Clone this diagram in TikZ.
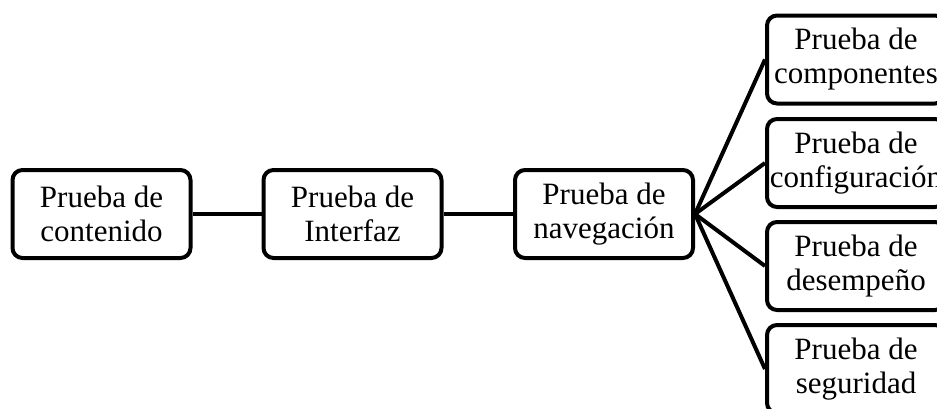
\documentclass[tikz,border=0pt]{standalone}
\usepackage{fontspec}
\setmainfont{Liberation Serif}
\begin{document}
\begin{tikzpicture}[x=1pt,y=-1pt,
  box/.style={draw=black, line width=4pt, rounded corners=10pt, fill=white,
    minimum width=178pt, minimum height=88pt, inner sep=0pt, align=center,
    font=\fontsize{31}{34}\selectfont},
  link/.style={draw=black, line width=4pt}]
\useasboundingbox (0,0) rectangle (937,408);
\clip (0,0) rectangle (937,408);
\node[box] (a) at (101.5,214) {Prueba de\\contenido};
\node[box] (b) at (352.5,214) {Prueba de\\Interfaz};
\node[box] (c) at (604,214) {Prueba de\\navegación};
\node[box] (r1) at (856,59.5) {Prueba de\\componentes};
\node[box] (r2) at (856,163) {Prueba de\\configuración};
\node[box] (r3) at (856,266) {Prueba de\\desempeño};
\node[box] (r4) at (856,369) {Prueba de\\seguridad};
\draw[link] (a.east) -- (b.west);
\draw[link] (b.east) -- (c.west);
\foreach \r in {r1,r2,r3,r4} \draw[link, line join=round] (c.east) -- (\r.west);
\end{tikzpicture}
\end{document}
